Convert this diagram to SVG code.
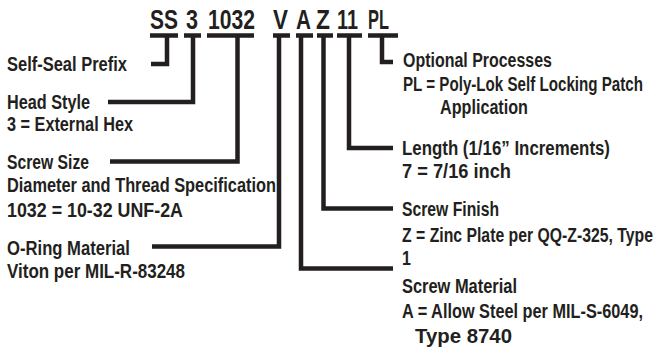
<svg xmlns="http://www.w3.org/2000/svg" width="665" height="354" viewBox="0 0 665 354">
<style>
text{font-family:"Liberation Sans",Arial,sans-serif;fill:#231f20;font-weight:bold}
.t{font-size:27px}
.l{font-size:20px}
.c{fill:none;stroke:#231f20;stroke-width:4.5;stroke-linejoin:miter;stroke-linecap:butt}
</style>
<rect width="665" height="354" fill="#fff"/>
<g id="code" transform="scale(0.78 1)">
<text class="t" x="192.3" y="29" textLength="35.9" lengthAdjust="spacingAndGlyphs">SS</text>
<text class="t" x="238.5" y="29" textLength="15.4" lengthAdjust="spacingAndGlyphs">3</text>
<text class="t" x="266.7" y="29" textLength="60.3" lengthAdjust="spacingAndGlyphs">1032</text>
<text class="t" x="350" y="29" textLength="19.2" lengthAdjust="spacingAndGlyphs">V</text>
<text class="t" x="379.5" y="29" textLength="19.2" lengthAdjust="spacingAndGlyphs">A</text>
<text class="t" x="405.1" y="29" textLength="17.9" lengthAdjust="spacingAndGlyphs">Z</text>
<text class="t" x="432.1" y="29" textLength="26.9" lengthAdjust="spacingAndGlyphs">11</text>
<text class="t" x="471.8" y="29" textLength="26.9" lengthAdjust="spacingAndGlyphs">PL</text>
</g>
<g id="connectors" class="c">
<path d="M150 35.5H178M167 35.5V64H151"/>
<path d="M184 35.5H201M193 35.5V102H108"/>
<path d="M207 35.5H254M237.5 35.5V161.5H110"/>
<path d="M273 35.5H290M279 35.5V246.5H152"/>
<path d="M296 35.5H313M301 35.5V268.5H393"/>
<path d="M317 35.5H333M323.5 35.5V208.5H393"/>
<path d="M337 35.5H362M349 35.5V148H393"/>
<path d="M368 35.5H398M382 35.5V62H393"/>
</g>
<g id="prefix" transform="scale(0.8 1)"><text class="l" x="8.75" y="71" textLength="150" lengthAdjust="spacingAndGlyphs">Self-Seal Prefix</text></g>
<g id="head-style" transform="scale(0.8 1)">
<text class="l" x="8.75" y="109" textLength="103.75" lengthAdjust="spacingAndGlyphs">Head Style</text>
<text class="l" x="8.75" y="131" textLength="157.5" lengthAdjust="spacingAndGlyphs">3 = External Hex</text>
</g>
<g id="screw-size" transform="scale(0.8 1)">
<text class="l" x="8.75" y="169" textLength="102.5" lengthAdjust="spacingAndGlyphs">Screw Size</text>
<text class="l" x="8.75" y="192" textLength="336.25" lengthAdjust="spacingAndGlyphs">Diameter and Thread Specification</text>
<text class="l" x="8.75" y="217" textLength="220" lengthAdjust="spacingAndGlyphs">1032 = 10-32 UNF-2A</text>
</g>
<g id="oring" transform="scale(0.8 1)">
<text class="l" x="8.75" y="255" textLength="153.75" lengthAdjust="spacingAndGlyphs">O-Ring Material</text>
<text class="l" x="8.75" y="278" textLength="222.5" lengthAdjust="spacingAndGlyphs">Viton per MIL-R-83248</text>
</g>
<g id="optional" transform="scale(0.8 1)">
<text class="l" x="503.75" y="67" textLength="186.25" lengthAdjust="spacingAndGlyphs">Optional Processes</text>
<text class="l" x="503.75" y="91" textLength="300" lengthAdjust="spacingAndGlyphs">PL = Poly-Lok Self Locking Patch</text>
<text class="l" x="550" y="114" textLength="110" lengthAdjust="spacingAndGlyphs">Application</text>
</g>
<g id="length" transform="scale(0.8 1)">
<text class="l" x="502.5" y="155" textLength="260" lengthAdjust="spacingAndGlyphs">Length (1/16” Increments)</text>
<text class="l" x="502.5" y="178" textLength="136.25" lengthAdjust="spacingAndGlyphs">7 = 7/16 inch</text>
</g>
<g id="finish" transform="scale(0.8 1)">
<text class="l" x="502.5" y="216" textLength="121.25" lengthAdjust="spacingAndGlyphs">Screw Finish</text>
<text class="l" x="502.5" y="242" textLength="313.75" lengthAdjust="spacingAndGlyphs">Z = Zinc Plate per QQ-Z-325, Type</text>
<text class="l" x="502.5" y="265">1</text>
</g>
<g id="material" transform="scale(0.8 1)">
<text class="l" x="502.5" y="293" textLength="143.75" lengthAdjust="spacingAndGlyphs">Screw Material</text>
<text class="l" x="502.5" y="318" textLength="301.25" lengthAdjust="spacingAndGlyphs">A = Allow Steel per MIL-S-6049,</text>
<text class="l" x="518.75" y="343" textLength="121.25" lengthAdjust="spacingAndGlyphs">Type 8740</text>
</g>
</svg>
